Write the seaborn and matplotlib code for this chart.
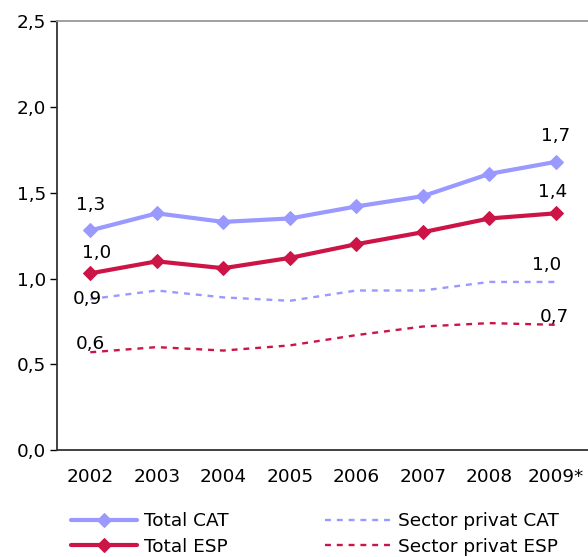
import matplotlib
matplotlib.use('Agg')
import matplotlib.pyplot as plt
import pandas as pd
import seaborn as sns

years = ['2002', '2003', '2004', '2005', '2006', '2007', '2008', '2009*']
total_cat = [1.28, 1.38, 1.33, 1.35, 1.42, 1.48, 1.61, 1.68]
total_esp = [1.03, 1.10, 1.06, 1.12, 1.20, 1.27, 1.35, 1.38]
privat_cat = [0.88, 0.93, 0.89, 0.87, 0.93, 0.93, 0.98, 0.98]
privat_esp = [0.57, 0.60, 0.58, 0.61, 0.67, 0.72, 0.74, 0.73]

# first / last labels shown on the chart
labels_first = {'Total CAT': '1,3', 'Total ESP': '1,0', 'Sector privat CAT': '0,9', 'Sector privat ESP': '0,6'}
labels_last = {'Total CAT': '1,7', 'Total ESP': '1,4', 'Sector privat CAT': '1,0', 'Sector privat ESP': '0,7'}

BLUE = '#9999FF'
RED = '#CC1447'
FS = 13.3

df = pd.DataFrame({
    'pos': list(range(len(years))) * 4,
    'value': total_cat + total_esp + privat_cat + privat_esp,
    'serie': (['Total CAT'] * 8 + ['Total ESP'] * 8
              + ['Sector privat CAT'] * 8 + ['Sector privat ESP'] * 8),
})

sns.set_style('white')
plt.rcParams['font.family'] = ['DejaVu Sans']
plt.rcParams['text.color'] = 'black'
plt.rcParams['xtick.color'] = 'black'
plt.rcParams['ytick.color'] = 'black'

fig = plt.figure(figsize=(5.88, 5.57), dpi=100)
ax = fig.add_axes([0.097, 0.192, 0.905, 0.770])

styles = {
    'Total CAT': dict(color=BLUE, lw=3, marker='D', ms=7, ls='-'),
    'Total ESP': dict(color=RED, lw=3, marker='D', ms=7, ls='-'),
    'Sector privat CAT': dict(color=BLUE, lw=1.7, ls=(0, (2.5, 2.5))),
    'Sector privat ESP': dict(color=RED, lw=1.7, ls=(0, (2.5, 2.5))),
}
for name in ['Total CAT', 'Total ESP', 'Sector privat CAT', 'Sector privat ESP']:
    sub = df[df['serie'] == name]
    st = styles[name]
    sns.lineplot(data=sub, x='pos', y='value', ax=ax, label=name,
                 color=st['color'], linewidth=st['lw'], linestyle=st['ls'],
                 marker=st.get('marker'), markersize=st.get('ms', 0),
                 markeredgecolor=st['color'], legend=False)

# data labels
first_off = {'Total CAT': (0, 25), 'Total ESP': (6, 20), 'Sector privat CAT': (-3, 0), 'Sector privat ESP': (0, 8)}
last_off = {'Total CAT': (0, 26), 'Total ESP': (-3, 21), 'Sector privat CAT': (-9, 17), 'Sector privat ESP': (-2, 8)}
for name, vals in [('Total CAT', total_cat), ('Total ESP', total_esp),
                   ('Sector privat CAT', privat_cat), ('Sector privat ESP', privat_esp)]:
    ax.annotate(labels_first[name], (0, vals[0]), xytext=first_off[name],
                textcoords='offset pixels', ha='center', va='center', fontsize=FS)
    ax.annotate(labels_last[name], (7, vals[-1]), xytext=last_off[name],
                textcoords='offset pixels', ha='center', va='center', fontsize=FS)

ax.set_xlim(-0.5, 7.5)
ax.set_ylim(0, 2.5)
ax.set_yticks([0, 0.5, 1.0, 1.5, 2.0, 2.5])
ax.set_yticklabels(['0,0', '0,5', '1,0', '1,5', '2,0', '2,5'], fontsize=FS)
ax.set_xticks(range(len(years)))
ax.set_xticklabels(years, fontsize=FS)
ax.set_xticks([i - 0.5 for i in range(len(years) + 1)], minor=True)
ax.tick_params(axis='x', which='major', length=0, pad=13)
ax.tick_params(axis='x', which='minor', length=5, width=1, color='black', direction='out')
ax.tick_params(axis='y', length=5, width=1, color='black', direction='out', left=True, pad=3)
ax.set_xlabel('')
ax.set_ylabel('')

for side in ['left', 'bottom']:
    ax.spines[side].set_color('#333333')
    ax.spines[side].set_linewidth(1.3)
ax.spines['top'].set_color('#999999')
ax.spines['top'].set_linewidth(1.3)
ax.spines['right'].set_visible(False)

handles, lbls = ax.get_legend_handles_labels()
fig.legend(handles, lbls, ncol=2, loc='upper left', bbox_to_anchor=(0.105, 0.097),
           frameon=False, fontsize=FS, handlelength=3.6, columnspacing=5.2,
           labelspacing=0.4, handletextpad=0.35, borderpad=0)

fig.savefig('out.png', dpi=100)
